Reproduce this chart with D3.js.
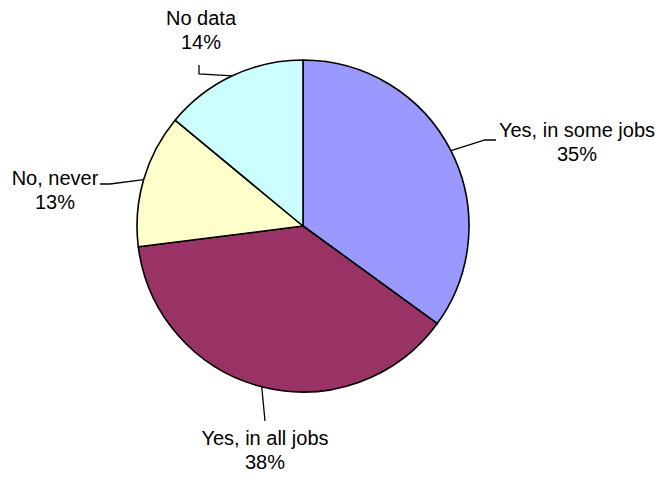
<!DOCTYPE html>
<html>
<head>
<meta charset="utf-8">
<script src="https://cdn.jsdelivr.net/npm/d3@7/dist/d3.min.js"></script>
<style>
  html, body { margin: 0; padding: 0; background: #ffffff; }
  svg { display: block; }
</style>
</head>
<body>
<svg id="chart" width="660" height="480"></svg>
<script>
// ---- data ----
const categories = ["Yes, in some jobs", "Yes, in all jobs", "No, never", "No data"];
const values = [35, 38, 13, 14];
const colors = ["#9999FF", "#993366", "#FFFFCC", "#CCFFFF"];

// ---- layout ----
const W = 660, H = 480;
const cx = 303, cy = 226, R = 166;
// label placement: text center x, first line center y, elbow & end of leader
const labelLayout = [
  { tx: 577, ty: 130, elbow: [485, 140], end: [496, 140] },
  { tx: 265, ty: 438, elbow: [265, 421], end: [265, 421] },
  { tx: 55,  ty: 178, elbow: [110, 184], end: [100, 184] },
  { tx: 201, ty: 18,  elbow: [199, 74],  end: [199, 65] }
];

const svg = d3.select("#chart");
const g = svg.append("g").attr("transform", `translate(${cx},${cy})`);

const pie = d3.pie().sort(null).value(d => d.value);
const arcs = pie(categories.map((c, i) => ({ name: c, value: values[i], color: colors[i] })));
const arc = d3.arc().innerRadius(0).outerRadius(R);
const total = d3.sum(values);

g.selectAll("path.slice")
  .data(arcs)
  .enter().append("path")
  .attr("class", "slice")
  .attr("d", arc)
  .attr("fill", d => d.data.color)
  .attr("stroke", "#000")
  .attr("stroke-width", 1.6)
  .attr("stroke-linejoin", "round");

// leader lines
arcs.forEach((d, i) => {
  const mid = (d.startAngle + d.endAngle) / 2;
  const px = cx + R * Math.sin(mid);
  const py = cy - R * Math.cos(mid);
  const L = labelLayout[i];
  svg.append("polyline")
    .attr("points", [[px, py], L.elbow, L.end].map(p => p.join(",")).join(" "))
    .attr("fill", "none")
    .attr("stroke", "#000")
    .attr("stroke-width", 1.3);
});

// labels
arcs.forEach((d, i) => {
  const L = labelLayout[i];
  const t = svg.append("text")
    .attr("text-anchor", "middle")
    .attr("font-family", "Arial, 'Liberation Sans', sans-serif")
    .attr("font-size", 20)
    .attr("fill", "#000");
  t.append("tspan").attr("x", L.tx).attr("y", L.ty).attr("dy", "0.35em").text(d.data.name);
  t.append("tspan").attr("x", L.tx).attr("y", L.ty + 24).attr("dy", "0.35em")
    .text(Math.round(d.data.value / total * 100) + "%");
});
</script>
</body>
</html>
